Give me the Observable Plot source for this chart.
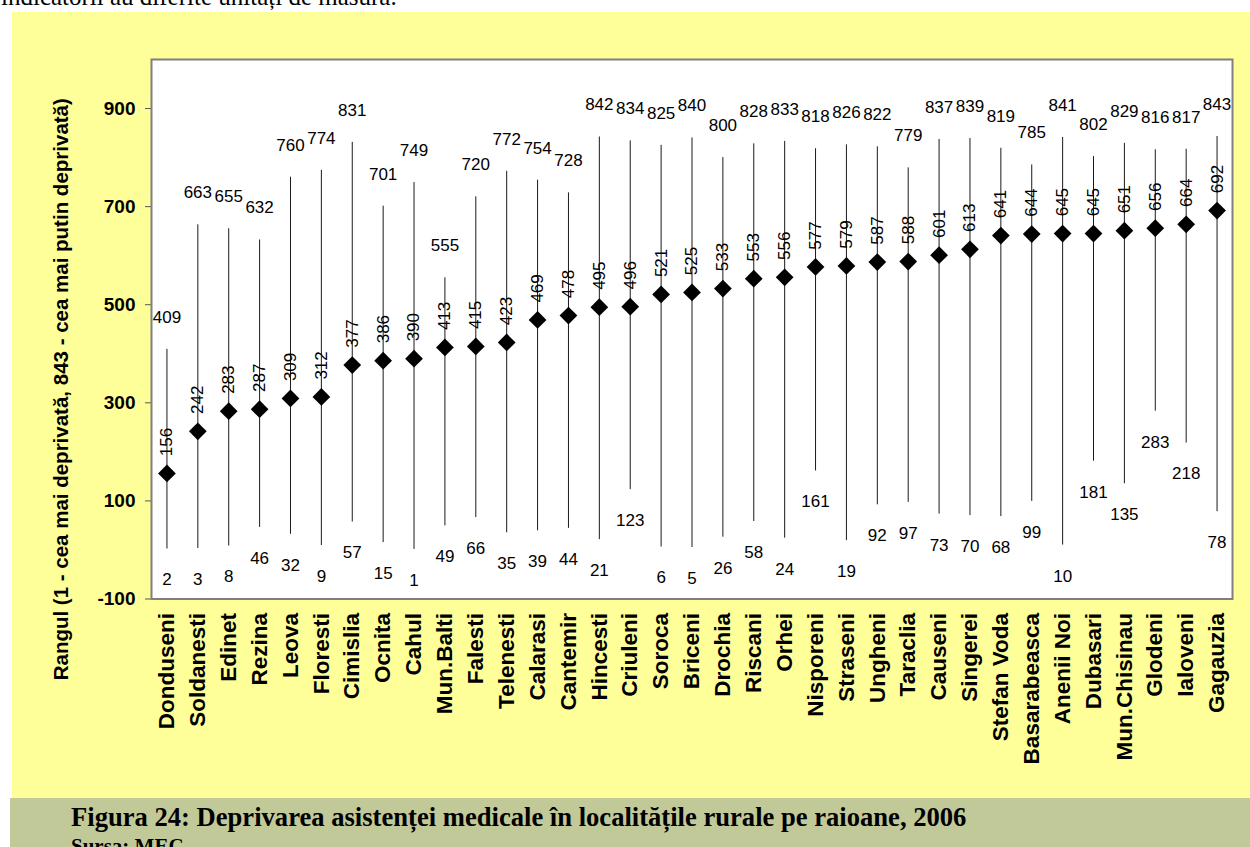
<!DOCTYPE html>
<html>
<head>
<meta charset="utf-8">
<script src="https://cdn.jsdelivr.net/npm/d3@7"></script>
<script src="https://cdn.jsdelivr.net/npm/@observablehq/plot@0.6"></script>
<style>
  html, body { margin: 0; padding: 0; background: #ffffff; }
  body { width: 1250px; height: 847px; position: relative; overflow: hidden; }
  #toptext { position: absolute; left: 1px; top: -17px; font: 25px "Liberation Serif", "Times New Roman", serif; white-space: nowrap; color: #000; }
  #panel { position: absolute; left: 12px; top: 12px; width: 1238px; height: 786px; background: #FFFF99; }
  #chart { position: absolute; left: 0; top: 0; }
  #captionbox { position: absolute; left: 10px; top: 798px; width: 1240px; height: 49px; background: #C2C998; }
  #caption { position: absolute; left: 61px; top: 4px; font: bold 26.6px "Liberation Serif", "Times New Roman", serif; white-space: nowrap; color: #000; }
  #source { position: absolute; left: 61px; top: 36px; font: bold 21px "Liberation Serif", "Times New Roman", serif; white-space: nowrap; color: #000; }
</style>
</head>
<body>
<div id="toptext">indicatorii au diferite unități de măsură.</div>
<div id="panel"><div id="chart"></div></div>
<div id="captionbox">
  <div id="caption">Figura 24: Deprivarea asistenței medicale în localitățile rurale pe raioane, 2006</div>
  <div id="source">Sursa: MEC</div>
</div>
<script>
// District names (x categories)
const districts = ["Donduseni","Soldanesti","Edinet","Rezina","Leova","Floresti","Cimislia","Ocnita","Cahul","Mun.Balti","Falesti","Telenesti","Calarasi","Cantemir","Hincesti","Criuleni","Soroca","Briceni","Drochia","Riscani","Orhei","Nisporeni","Straseni","Ungheni","Taraclia","Causeni","Singerei","Stefan Voda","Basarabeasca","Anenii Noi","Dubasari","Mun.Chisinau","Glodeni","Ialoveni","Gagauzia"];
// District rank (diamond)
const rankValues = [156,242,283,287,309,312,377,386,390,413,415,423,469,478,495,496,521,525,533,553,556,577,579,587,588,601,613,641,644,645,645,651,656,664,692];
// Minimum rank of localities in district
const minValues = [2,3,8,46,32,9,57,15,1,49,66,35,39,44,21,123,6,5,26,58,24,161,19,92,97,73,70,68,99,10,181,135,283,218,78];
// Maximum rank of localities in district
const maxValues = [409,663,655,632,760,774,831,701,749,555,720,772,754,728,842,834,825,840,800,828,833,818,826,822,779,837,839,819,785,841,802,829,816,817,843];
// Y axis tick values
const yTicks = [-100,100,300,500,700,900];
const yTitle = "Rangul (1 - cea mai deprivată, 843 - cea mai putin deprivată)";

const data = districts.map((name, i) => ({name, value: rankValues[i], min: minValues[i], max: maxValues[i]}));

const font = "'Liberation Sans', Arial, sans-serif";

const chart = Plot.plot({
  width: 1238,
  height: 786,
  marginLeft: 139,
  marginRight: 18,
  marginTop: 47,
  marginBottom: 199.5,
  style: {background: "transparent", fontFamily: font, overflow: "visible", color: "#000"},
  x: {type: "band", domain: districts, padding: 0},
  y: {domain: [-100, 1000]},
  marks: [
    Plot.frame({fill: "white", stroke: "none"}),
    Plot.ruleX(data, {x: "name", y1: "min", y2: "max", stroke: "#1a1a1a", strokeWidth: 1}),
    Plot.dot(data, {x: "name", y: "value", symbol: "diamond2", r: 8, fill: "#000", stroke: "none"}),
    Plot.text(data, {x: "name", y: "max", text: d => String(d.max), dy: -32, fontSize: 17, fill: "#000"}),
    Plot.text(data, {x: "name", y: "min", text: d => String(d.min), dy: 31, fontSize: 17, fill: "#000"}),
    Plot.text(data, {x: "name", y: "value", text: d => String(d.value), dy: -31.5, rotate: -90, fontSize: 17, fill: "#000"}),
    Plot.axisY({ticks: yTicks, tickFormat: d => String(d), tickSize: 6, tickPadding: 10, fontSize: 19, fontWeight: "bold", label: null, stroke: "#555", fill: "#000"}),
    Plot.axisX({tickSize: 0, tickPadding: 14, tickRotate: -90, fontSize: 22.5, fontWeight: "bold", label: null, fill: "#000"}),
    Plot.text([yTitle], {frameAnchor: "left", textAnchor: "middle", lineAnchor: "middle", dx: -90, dy: 60, rotate: -90, fontSize: 20.5, fontWeight: "bold", fill: "#000"}),
    Plot.frame({stroke: "#7f7f7f", strokeWidth: 2, fill: "none"})
  ]
});
document.getElementById("chart").appendChild(chart);
</script>
</body>
</html>
